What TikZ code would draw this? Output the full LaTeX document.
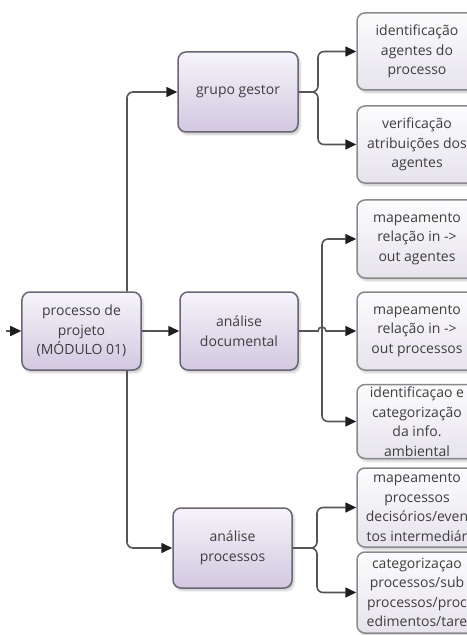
\documentclass[tikz,border=0pt]{standalone}
\usepackage{fontspec}
\setmainfont{Open Sans}
\usetikzlibrary{arrows.meta,shadows.blur}

\definecolor{lineclr}{HTML}{555555}
\definecolor{tipclr}{HTML}{1E1E1E}
\definecolor{txtclr}{HTML}{3E3E3E}
\definecolor{mainborder}{HTML}{6A6476}
\definecolor{maintop}{HTML}{F6F4F9}
\definecolor{mainbot}{HTML}{D2C8E1}
\definecolor{leafborder}{HTML}{8A888F}
\definecolor{leaftop}{HTML}{FCFCFD}
\definecolor{leafbot}{HTML}{E6E3EC}

\tikzset{
  boxbase/.style={rectangle, rounded corners=8bp, line width=1.5bp,
    align=center, inner sep=0pt, text=txtclr,
    font=\fontsize{14bp}{19.5bp}\selectfont,
    blur shadow={shadow xshift=2bp, shadow yshift=-2.5bp,
      shadow blur steps=6, shadow opacity=22}},
  procbox/.style={boxbase, draw=mainborder, top color=maintop,
    bottom color=mainbot, minimum width=119bp},
  leafbox/.style={boxbase, draw=leafborder, top color=leaftop,
    bottom color=leafbot, minimum width=120bp},
  conn/.style={draw=lineclr, line width=1.6bp, rounded corners=6bp,
    -{Triangle[length=11bp,width=10bp,color=tipclr]}}
}

\begin{document}
\begin{tikzpicture}[x=1bp, y=-1bp]
  \useasboundingbox (0,0) rectangle (467,635);
  \clip (0,0) rectangle (467,635);

  % process column
  \node[procbox, minimum height=78bp] (main) at (81.5,331)
    {processo de\\projeto\\(MÓDULO 01)};
  \node[procbox, minimum height=80bp, minimum width=120bp] (gg) at (238,92)
    {grupo gestor};
  \node[procbox, minimum height=78bp, minimum width=118bp] (ad) at (239,331)
    {análise\\documental};
  \node[procbox, minimum height=80bp] (ap) at (232.5,548)
    {análise\\processos};

  % task column
  \node[leafbox, minimum height=77bp] (r1) at (417,51.5)
    {identificação\\agentes do\\processo};
  \node[leafbox, minimum height=77bp] (r2) at (417,144.5)
    {verificação\\atribuições dos\\agentes};
  \node[leafbox, minimum height=78bp] (r3) at (417,239)
    {mapeamento\\relação in ->\\out agentes};
  \node[leafbox, minimum height=78bp] (r4) at (417,331)
    {mapeamento\\relação in ->\\out processos};
  \node[leafbox, minimum height=74bp] (r5) at (417,421.5)
    {identificaçao e\\categorização\\da info.\\ambiental};
  \node[leafbox, minimum height=79bp] (r6) at (417,507.5)
    {mapeamento\\processos\\decisórios/even\\tos intermediár};
  \node[leafbox, minimum height=81bp] (r7) at (417,592.5)
    {categorizaçao\\processos/sub\\processos/proc\\edimentos/tare};

  % routing points
  \coordinate (src) at (6,331);
  \coordinate (trunk) at (127,0);
  \coordinate (fork1) at (318,0);
  \coordinate (hop) at (322,331);
  \coordinate (fork3) at (317,0);

  % input and trunk
  \draw[conn] (src) -- (main.west);
  \draw[conn] (main.north -| trunk) |- (gg.west);
  \draw[conn] (main.east) -- (ad.west);
  \draw[conn] (main.south -| trunk) |- (ap.west);

  % grupo gestor branches
  \draw[conn] (gg.east) -- (gg.east -| fork1) |- (r1.west);
  \draw[conn] (gg.east) -- (gg.east -| fork1) |- (r2.west);

  % documental branches, straight line hopping over the riser
  \draw[conn, rounded corners=0pt] (ad.east) -- ([xshift=-4bp]hop)
    arc[start angle=180, end angle=0, radius=4bp] -- (r4.west);
  \draw[conn] (hop) |- (r3.west);
  \draw[conn] (hop) |- (r5.west);

  % processos branches
  \draw[conn] (ap.east) -- (ap.east -| fork3) |- (r6.west);
  \draw[conn] (ap.east) -- (ap.east -| fork3) |- (r7.west);
\end{tikzpicture}
\end{document}
